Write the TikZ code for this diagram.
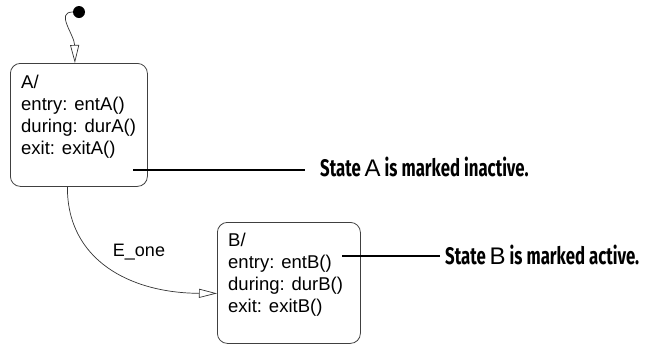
\documentclass[tikz,border=0pt]{standalone}
\usepackage{fontspec}
\setmainfont{Liberation Sans}
\newfontfamily\notefont[FakeStretch=0.7]{Fira Sans}
\newfontfamily\plainfont{Liberation Sans}
\usepackage{xcolor}
\usepackage{tikz}
\usetikzlibrary{arrows.meta}

\begin{document}
\begin{tikzpicture}[x=1pt, y=-1pt,
    state/.style={draw=black!75, line width=0.8pt, rounded corners=10pt, anchor=north west, inner sep=0pt},
    statetext/.style={anchor=north west, align=left, inner sep=0pt, font=\fontsize{18.5}{22}\selectfont},
    trans/.style={draw=black!80, line width=0.7pt, -{Triangle[open, length=18pt, width=9pt]}},
    note/.style={anchor=west, inner xsep=15pt, inner ysep=0pt, font=\notefont\bfseries\fontsize{24}{26}\selectfont},
    callout/.style={line width=1.8pt}]
    \useasboundingbox (0,0) rectangle (646,346);
    % states
    \node[state, minimum width=137pt, minimum height=123pt] (A) at (10,63) {};
    \node[state, minimum width=143pt, minimum height=121pt] (B) at (217,222) {};
    \node[statetext] (Atext) at (21,74.5) {A/\\entry: entA()\\during: durA()\\exit: exitA()};
    \node[statetext] (Btext) at (228,232.5) {B/\\entry: entB()\\during: durB()\\exit: exitB()};
    % default transition
    \node[circle, fill, inner sep=0pt, minimum size=12pt] (init) at (79,12) {};
    \draw[trans] (init) .. controls (55,12) and (74.5,35) .. ([xshift=-4pt]A.north);
    % transition A -> B
    \draw[trans] ([xshift=-11.5pt]A.south) .. controls (67,260) and (130,293) .. ([yshift=-10.5pt]B.west);
    \node[font=\fontsize{18}{20}\selectfont] (evt) at (139,252) {E\_one};
    % callouts
    \node[note] (noteA) at (305,167) {State {\plainfont\mdseries A} is marked inactive.};
    \node[note, inner xsep=5pt] (noteB) at (440,255) {State {\plainfont\mdseries B} is marked active.};
    \coordinate (lineA) at (133,170);
    \coordinate (lineB) at (342,256);
    \draw[callout] (lineA) -- (lineA -| noteA.west);
    \draw[callout] (lineB) -- (lineB -| noteB.west);
\end{tikzpicture}
\end{document}
